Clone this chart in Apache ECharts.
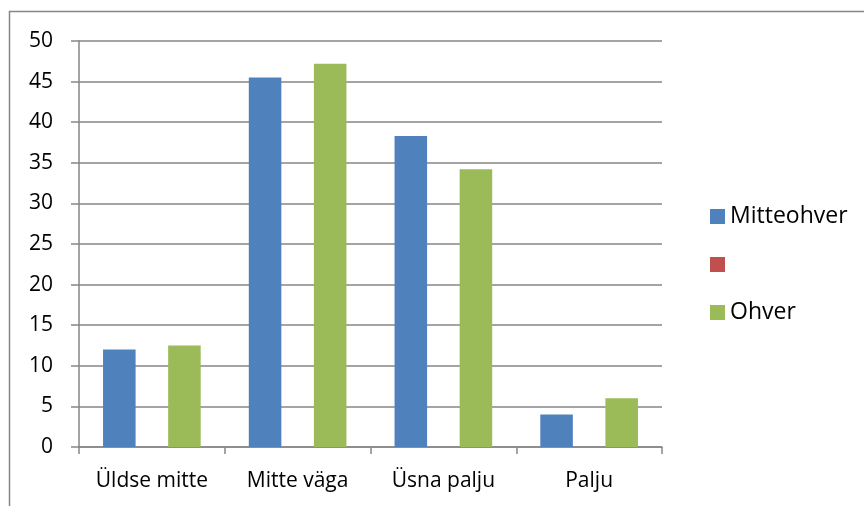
<!DOCTYPE html>
<html>
<head>
<meta charset="utf-8">
<script src="https://cdn.jsdelivr.net/npm/echarts@6/dist/echarts.min.js"></script>
<style>
    html,body{margin:0;padding:0;background:#fff;}
    #chart{width:864px;height:506px;}
</style>
</head>
<body>
<div id="chart"></div>
<script>
var categories=["Üldse mitte","Mitte väga","Üsna palju","Palju"];
var seriesNames=["Mitteohver"," ","Ohver"];
var mitteohver=[12.0,45.5,38.3,4.0];
var tuhi=[0,0,0,0];
var ohver=[12.5,47.2,34.2,6.0];
var yTicks={min:0,max:50,interval:5};

var sFont="'Open Sans','Noto Sans',sans-serif";
var sGrey="#868686";
var oChart=echarts.init(document.getElementById("chart"),null,{renderer:"canvas"});

function barSeries(name,data,color){
    return {
        name:name,
        type:"bar",
        data:data,
        barGap:"0%",
        barCategoryGap:"33%",
        itemStyle:{color:color},
        animation:false
    };
}

var option={
    backgroundColor:"#fff",
    animation:false,
    grid:{left:79,top:41,right:202,bottom:59},
    legend:{
        orient:"vertical",
        left:705,
        top:200,
        itemWidth:15,
        itemHeight:15,
        itemGap:25,
        icon:"rect",
        data:seriesNames,
        textStyle:{fontFamily:sFont,fontSize:23,color:"#000"}
    },
    xAxis:{
        type:"category",
        data:categories,
        axisLine:{lineStyle:{color:sGrey,width:1.5}},
        axisTick:{show:true,length:7,lineStyle:{color:sGrey,width:1.5}},
        axisLabel:{fontFamily:sFont,fontSize:21,color:"#000",margin:24,interval:0,hideOverlap:false}
    },
    yAxis:{
        type:"value",
        min:yTicks.min,
        max:yTicks.max,
        interval:yTicks.interval,
        axisLine:{show:true,lineStyle:{color:sGrey,width:1.5}},
        axisTick:{show:true,length:8,lineStyle:{color:sGrey,width:1.5}},
        axisLabel:{fontFamily:sFont,fontSize:21,color:"#000",margin:26},
        splitLine:{show:true,lineStyle:{color:sGrey,width:1.5}}
    },
    graphic:[
        {
            type:"polyline",
            silent:true,
            shape:{points:[[9.5,506],[9.5,11.5],[864,11.5]]},
            style:{fill:null,stroke:sGrey,lineWidth:1.5}
        }
    ],
    series:[
        barSeries(seriesNames[0],mitteohver,"#4F81BD"),
        barSeries(seriesNames[1],tuhi,"#C0504D"),
        barSeries(seriesNames[2],ohver,"#9BBB59")
    ]
};
oChart.setOption(option);
</script>
</body>
</html>
